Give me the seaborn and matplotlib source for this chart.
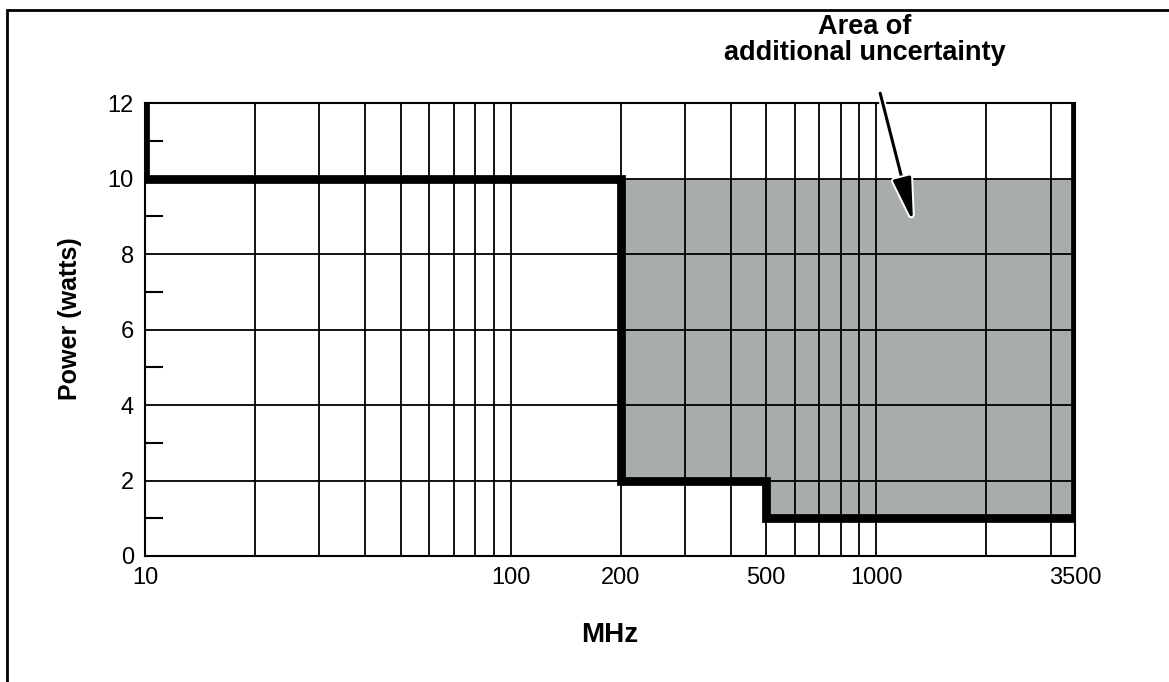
import matplotlib
matplotlib.use("Agg")
import matplotlib.pyplot as plt
import matplotlib.patheffects as pe
from matplotlib.patches import Rectangle
import seaborn as sns
import pandas as pd

# 边界线 (MHz, watts)
step_mhz = [10, 10, 200, 200, 500, 500, 3500, 3500]
step_watts = [12, 10, 10, 2, 2, 1, 1, 12]

# 不确定区域
shade_mhz = [200, 500, 3500]
shade_low = [2, 1, 1]
shade_high = 10

# 刻度
x_labels = [10, 100, 200, 500, 1000, 3500]
x_grid = [20, 30, 40, 50, 60, 70, 80, 90, 100, 200, 300, 400, 500,
          600, 700, 800, 900, 1000, 2000, 3000]
y_major = [0, 2, 4, 6, 8, 10, 12]
y_minor = [1, 3, 5, 7, 9, 11]

note_text = "Area of\nadditional uncertainty"

sns.set_theme(style="white")
plt.rcParams["font.family"] = ["Liberation Sans", "DejaVu Sans"]
plt.rcParams["text.color"] = "black"
plt.rcParams["axes.labelcolor"] = "black"
plt.rcParams["xtick.color"] = "black"
plt.rcParams["ytick.color"] = "black"

fig = plt.figure(figsize=(11.69, 6.82), dpi=100)
ax = fig.add_axes([145 / 1169, 1 - 556 / 682, 930 / 1169, 453 / 682])

df = pd.DataFrame({"mhz": step_mhz, "watts": step_watts})

# 灰色区域
ax.fill_between(shade_mhz, shade_low, shade_high, step="post",
                color="#a8acad", linewidth=0, zorder=1)

ax.set_xscale("log")
ax.set_xlim(10, 3500)
ax.set_ylim(0, 12)

# 网格线画在灰色上面
for x in x_grid:
    ax.axvline(x, color="black", lw=1.3, zorder=2)
for y in y_major[1:-1]:
    ax.axhline(y, color="black", lw=1.3, zorder=2)

# 粗边界线
sns.lineplot(data=df, x="mhz", y="watts", sort=False, estimator=None,
             color="black", lw=6.3, ax=ax, zorder=3)
ax.lines[-1].set_solid_joinstyle("miter")

ax.set_xticks(x_labels)
ax.set_xticklabels([str(v) for v in x_labels])
ax.xaxis.set_minor_locator(matplotlib.ticker.NullLocator())
ax.set_yticks(y_major)
ax.set_yticks(y_minor, minor=True)
ax.tick_params(axis="x", which="both", length=0, pad=8, labelsize=17,
               colors="black")
ax.tick_params(axis="y", which="major", length=0, pad=8, labelsize=17,
               colors="black")
ax.tick_params(axis="y", which="minor", direction="in", length=13,
               width=1.5, color="black", left=True)

for s in ax.spines.values():
    s.set_color("black")
    s.set_linewidth(1.5)
    s.set_zorder(2.5)

ax.set_xlabel("MHz", fontsize=20, fontweight="bold")
ax.set_ylabel("Power (watts)", fontsize=18, fontweight="bold")
ax.xaxis.set_label_coords(0.5, -0.145)
ax.yaxis.set_label_coords(-0.068, 0.525)

# 注释
ax.text(933, 13.66, note_text, ha="center", va="center", fontsize=19.5,
        fontweight="bold", linespacing=1.0, clip_on=False)
ax.annotate("", xy=(1262, 8.85), xytext=(1026, 12.26),
            arrowprops=dict(arrowstyle="-|>,head_length=0.95,head_width=0.2",
                            mutation_scale=28, color="black", lw=2.2,
                            shrinkA=0, shrinkB=0,
                            path_effects=[pe.withStroke(linewidth=5, foreground="white")]),
            annotation_clip=False, zorder=5)

# 外框
fig.patches.append(Rectangle((7 / 1169, -0.1), 1.2, 1 - 10 / 682 + 0.1,
                             transform=fig.transFigure, fill=False,
                             edgecolor="black", lw=2, zorder=0))

fig.savefig("out.png", dpi=100)
plt.close(fig)
